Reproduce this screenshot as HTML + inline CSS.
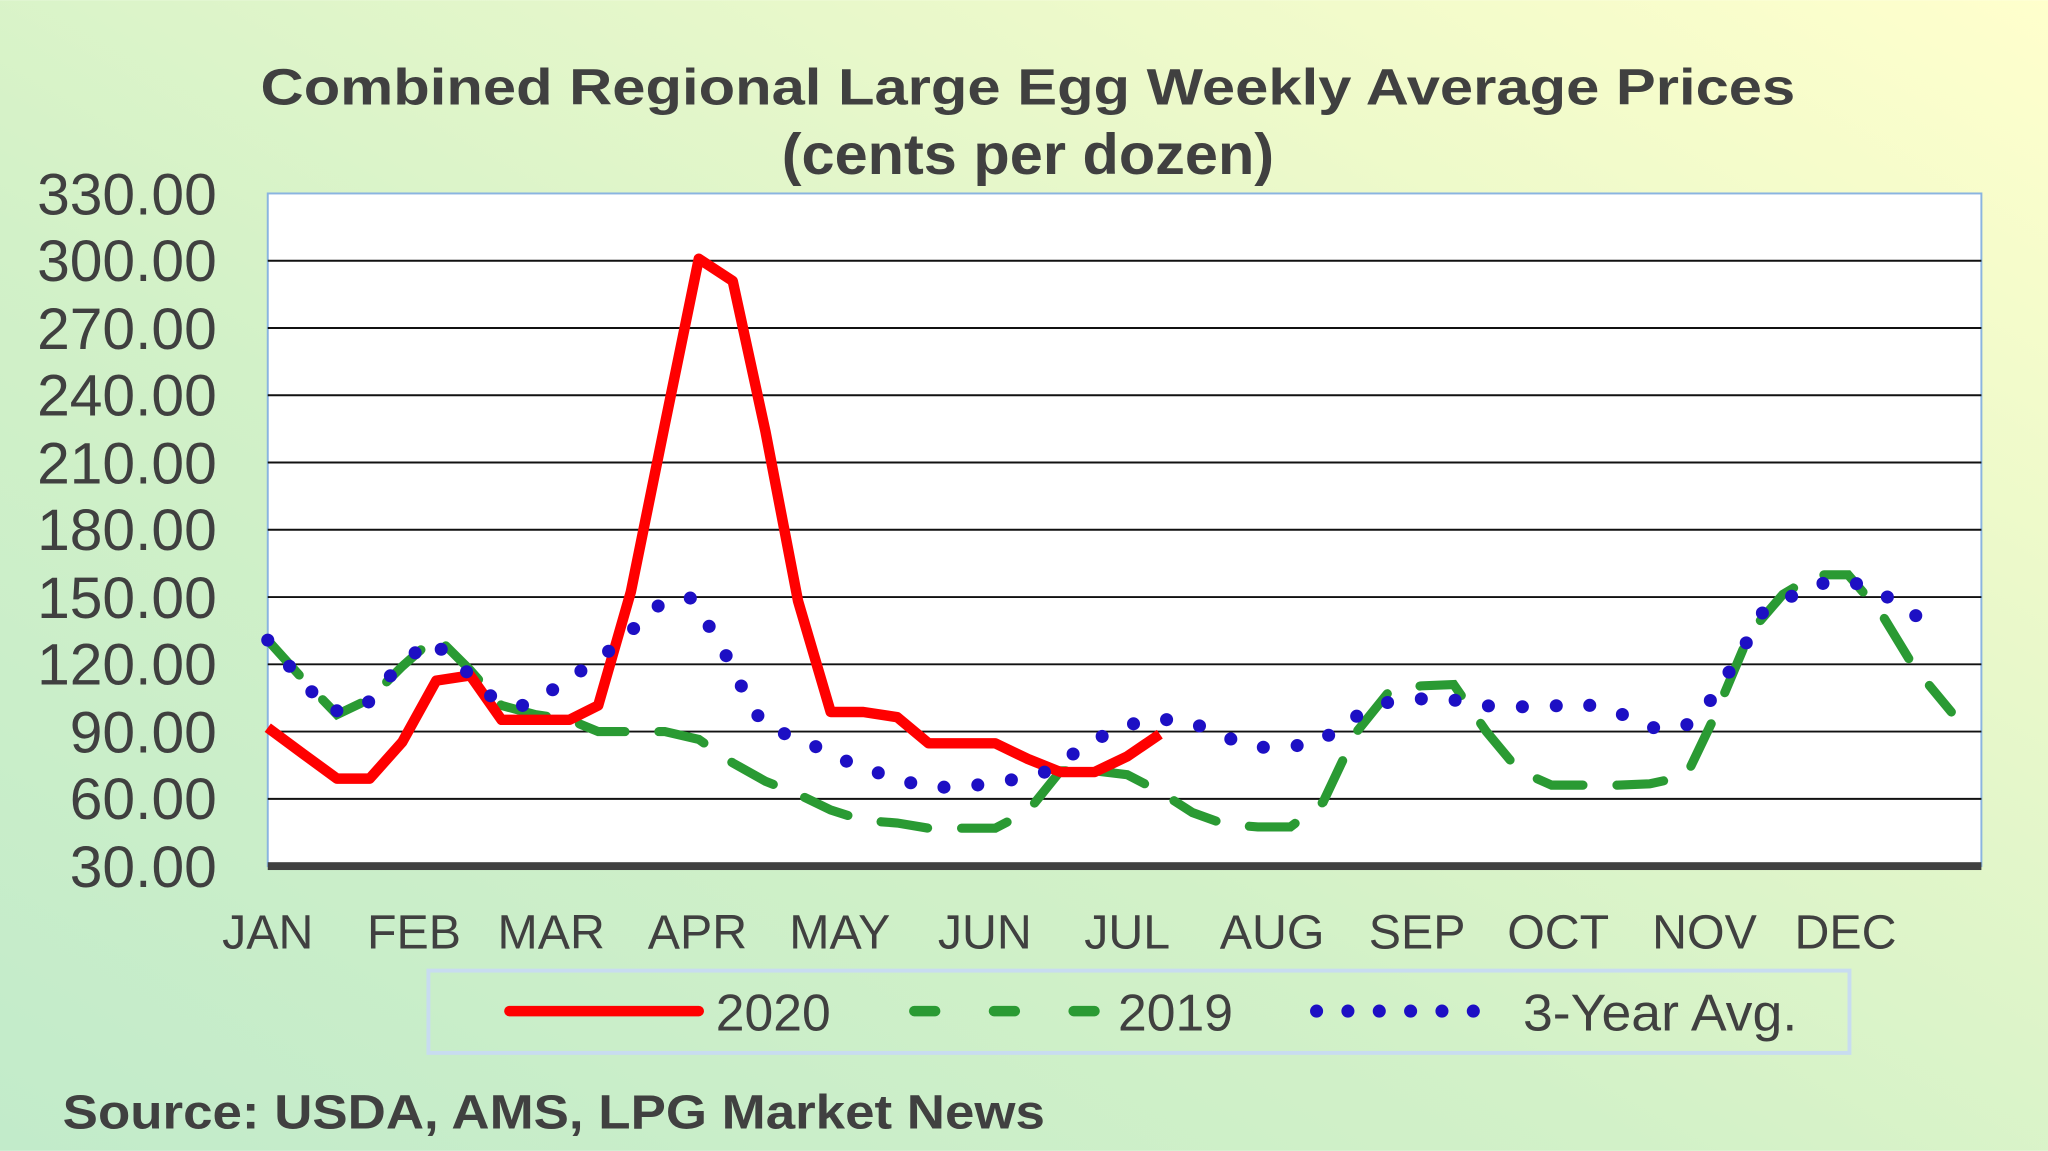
<!DOCTYPE html>
<html><head><meta charset="utf-8"><style>html,body{margin:0;padding:0;width:2048px;height:1151px;overflow:hidden}</style></head>
<body>
<svg width="2048" height="1151" viewBox="0 0 1568 881" xmlns="http://www.w3.org/2000/svg" font-family="Liberation Sans, sans-serif">
<defs>
<linearGradient id="bg" x1="0" y1="1" x2="1" y2="0">
<stop offset="0" stop-color="#c2ebca"/><stop offset="0.4" stop-color="#d2f1c8"/><stop offset="1" stop-color="#ffffcc"/>
</linearGradient>
</defs>
<rect width="1568" height="881" fill="url(#bg)"/>
<text x="787" y="80" font-size="39" font-weight="bold" fill="#404040" text-anchor="middle" textLength="1175" lengthAdjust="spacingAndGlyphs">Combined Regional Large Egg Weekly Average Prices</text>
<text x="787" y="133" font-size="44" font-weight="bold" fill="#404040" text-anchor="middle" textLength="377" lengthAdjust="spacingAndGlyphs">(cents per dozen)</text>
<rect x="205" y="148" width="1312" height="515" fill="#fff" stroke="#8ab4e0" stroke-width="1.5"/>
<g stroke="#111" stroke-width="1.5">
<line x1="205" x2="1517" y1="199.5" y2="199.5"/><line x1="205" x2="1517" y1="251" y2="251"/>
<line x1="205" x2="1517" y1="302.5" y2="302.5"/><line x1="205" x2="1517" y1="354" y2="354"/>
<line x1="205" x2="1517" y1="405.5" y2="405.5"/><line x1="205" x2="1517" y1="457" y2="457"/>
<line x1="205" x2="1517" y1="508.5" y2="508.5"/><line x1="205" x2="1517" y1="560" y2="560"/>
<line x1="205" x2="1517" y1="611.5" y2="611.5"/>
</g>
<rect x="205" y="660" width="1312" height="6" fill="#404040"/>
<g font-size="45" fill="#404040" text-anchor="end">
<text x="166" y="164">330.00</text><text x="166" y="215">300.00</text><text x="166" y="267">270.00</text>
<text x="166" y="318">240.00</text><text x="166" y="370">210.00</text><text x="166" y="421">180.00</text>
<text x="166" y="473">150.00</text><text x="166" y="524">120.00</text><text x="166" y="576">90.00</text>
<text x="166" y="627">60.00</text><text x="166" y="679">30.00</text>
</g>
<g font-size="37" fill="#404040" text-anchor="middle">
<text x="205" y="726">JAN</text><text x="317" y="726">FEB</text><text x="422" y="726">MAR</text>
<text x="534" y="726">APR</text><text x="643" y="726">MAY</text><text x="754" y="726">JUN</text>
<text x="863" y="726">JUL</text><text x="974" y="726">AUG</text><text x="1085" y="726">SEP</text>
<text x="1193" y="726">OCT</text><text x="1305" y="726">NOV</text><text x="1413" y="726">DEC</text>
</g>
<polyline fill="none" stroke="#2a9a33" stroke-width="7" stroke-dasharray="36 26" stroke-linecap="round" points="205,490 232,520 258,547 283,535 308,510 334,487 360,513 384,540 410,547 436,551 458,560 483,560 509,560 535,566 561,584 586,598 611,608 636,620 661,628 687,630 711,634 737,634 762,634 787,621 812,590 838,590 863,593 888,606 913,622 938,631 963,633 988,633 1013,614 1038,561 1063,530 1088,525 1113,524 1138,560 1163,590 1188,601 1213,601 1238,601 1263,600 1291,594 1313,548 1340,484 1365,455 1390,440 1415,440 1440,469 1465,510 1494,545"/>
<polyline fill="none" stroke="#ff0000" stroke-width="8" stroke-linejoin="round" points="205,557 232,577 258,596 283,596 308,568 334,521 360,517 384,551 410,551 436,551 458,540 483,453 509,325 535,198 561,215 586,330 611,460 636,545 661,545 687,549 711,569 737,569 762,569 787,581 812,591 838,591 863,579 888,562"/>
<polyline fill="none" stroke="#1d0fc4" stroke-width="10" stroke-dasharray="0 26" stroke-linecap="round" points="205,490 230,520 253,545 280,540 305,510 330,490 357,514 378,535 400,540 425,527 450,510 475,492 500,465 528,457 550,490 570,530 585,556 610,565 630,574 655,586 680,594 710,603 740,602 770,598 800,591 825,575 850,560 880,550 910,552 935,563 960,572 985,572 1010,568 1035,550 1060,538 1085,535 1110,535 1130,540 1160,541 1185,541 1210,538 1240,546 1265,557 1290,556 1305,543 1330,505 1350,468 1378,453 1400,445 1425,447 1445,457 1465,470 1482,482"/>
<rect x="328" y="743" width="1088" height="63" fill="none" stroke="#c8dcf0" stroke-width="3"/>
<line x1="390" y1="774" x2="535" y2="774" stroke="#ff0000" stroke-width="8" stroke-linecap="round"/>
<text x="548" y="789" font-size="40" fill="#404040" textLength="88" lengthAdjust="spacingAndGlyphs">2020</text>
<line x1="700" y1="774" x2="840" y2="774" stroke="#2a9a33" stroke-width="8" stroke-dasharray="16 45" stroke-linecap="round"/>
<text x="856" y="789" font-size="40" fill="#404040" textLength="88" lengthAdjust="spacingAndGlyphs">2019</text>
<line x1="1008" y1="774" x2="1152" y2="774" stroke="#1d0fc4" stroke-width="10" stroke-dasharray="0 24" stroke-linecap="round"/>
<text x="1166" y="789" font-size="40" fill="#404040" textLength="210" lengthAdjust="spacingAndGlyphs">3-Year Avg.</text>
<text x="48" y="864" font-size="37" font-weight="bold" fill="#404040" textLength="752" lengthAdjust="spacingAndGlyphs">Source: USDA, AMS, LPG  Market News</text>
</svg>
</body></html>
